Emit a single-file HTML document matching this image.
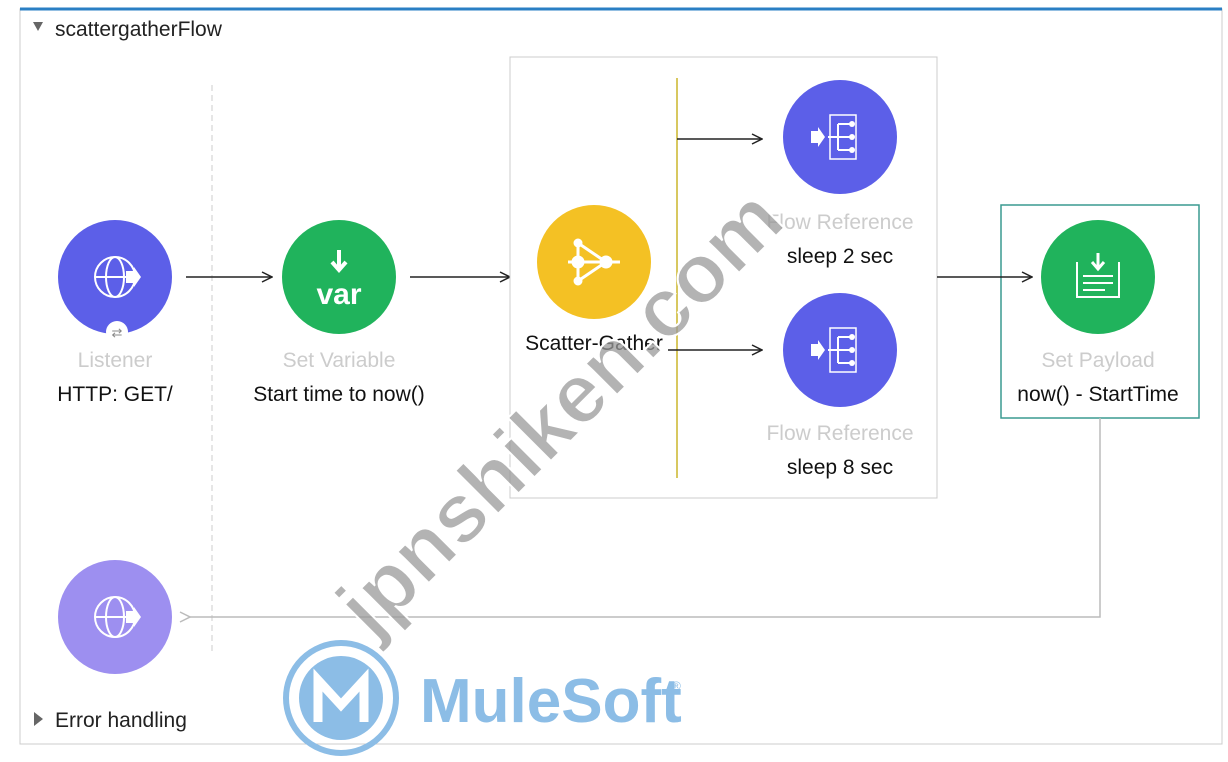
<!DOCTYPE html>
<html><head><style>
body{margin:0;width:1228px;height:757px;background:#fff;overflow:hidden;font-family:"Liberation Sans",sans-serif;}
</style></head><body>
<svg width="1228" height="757" viewBox="0 0 1228 757" xmlns="http://www.w3.org/2000/svg" font-family="Liberation Sans, sans-serif">
<defs>
<marker id="ar" markerWidth="12" markerHeight="12" refX="11" refY="6" orient="auto" markerUnits="userSpaceOnUse"><path d="M1,1 L11,6 L1,11" fill="none" stroke="#222" stroke-width="1.5"/></marker>
<marker id="ag" markerWidth="12" markerHeight="12" refX="1" refY="6" orient="auto" markerUnits="userSpaceOnUse"><path d="M11,1 L1,6 L11,11" fill="none" stroke="#bbb" stroke-width="1.5"/></marker>
</defs>
<rect x="20" y="9" width="1202" height="735" fill="#fff" stroke="#ccc"/>
<line x1="20" y1="9" x2="1222" y2="9" stroke="#2a7fc4" stroke-width="3"/>
<path d="M33,22 L43,22 L38,31 Z" fill="#666"/>
<text x="55" y="36" font-size="21" fill="#222">scattergatherFlow</text>
<line x1="212" y1="85" x2="212" y2="655" stroke="#ccc" stroke-dasharray="6,4"/>
<!-- Listener -->
<circle cx="115" cy="277" r="57" fill="#5c5fe8"/>
<circle cx="115" cy="277" r="20" fill="none" stroke="#fff" stroke-width="2"/>
<ellipse cx="115" cy="277" rx="9" ry="20" fill="none" stroke="#fff" stroke-width="2"/>
<line x1="95" y1="277" x2="135" y2="277" stroke="#fff" stroke-width="2"/>
<path d="M126,271 L134,271 L134,267 L141,277 L134,287 L134,283 L126,283Z" fill="#fff"/>
<circle cx="117" cy="332" r="11" fill="#fff"/>
<text x="117" y="337" font-size="13" fill="#888" text-anchor="middle">⇄</text>
<text x="115" y="367" font-size="21" fill="#ccc" text-anchor="middle">Listener</text>
<text x="115" y="401" font-size="21" fill="#111" text-anchor="middle">HTTP: GET/</text>
<line x1="186" y1="277" x2="272" y2="277" stroke="#222" stroke-width="1.5" marker-end="url(#ar)"/>
<!-- Set Variable -->
<circle cx="339" cy="277" r="57" fill="#20b35c"/>
<path d="M339,250 L339,268 M332,262 L339,270 L346,262" stroke="#fff" stroke-width="4" fill="none"/>
<text x="339" y="304" font-size="30" font-weight="bold" fill="#fff" text-anchor="middle">var</text>
<text x="339" y="367" font-size="21" fill="#ccc" text-anchor="middle">Set Variable</text>
<text x="339" y="401" font-size="21" fill="#111" text-anchor="middle">Start time to now()</text>
<line x1="410" y1="277" x2="510" y2="277" stroke="#222" stroke-width="1.5" marker-end="url(#ar)"/>
<!-- Scatter box -->
<rect x="510" y="57" width="427" height="441" fill="#fff" stroke="#ccc"/>
<line x1="677" y1="78" x2="677" y2="478" stroke="#d8c860" stroke-width="2"/>
<circle cx="594" cy="262" r="57" fill="#f4c124"/>
<g stroke="#fff" stroke-width="3" fill="#fff">
<line x1="578" y1="243" x2="578" y2="281"/><line x1="578" y1="243" x2="606" y2="262"/><line x1="578" y1="281" x2="606" y2="262"/><line x1="568" y1="262" x2="620" y2="262"/>
<circle cx="578" cy="243" r="3"/><circle cx="578" cy="281" r="3"/><circle cx="578" cy="262" r="5"/><circle cx="606" cy="262" r="5"/>
</g>
<text x="594" y="350" font-size="21" fill="#111" text-anchor="middle">Scatter-Gather</text>
<line x1="677" y1="139" x2="762" y2="139" stroke="#222" stroke-width="1.5" marker-end="url(#ar)"/>
<line x1="668" y1="350" x2="762" y2="350" stroke="#222" stroke-width="1.5" marker-end="url(#ar)"/>
<g id="fr">
<circle cx="840" cy="137" r="57" fill="#5c5fe8"/>
<rect x="830" y="115" width="26" height="44" fill="none" stroke="#fff" stroke-width="1.5"/>
<path d="M811,131 L818,131 L818,127 L825,137 L818,147 L818,143 L811,143Z" fill="#fff"/>
<path d="M828,137 L838,137 M838,124 L838,150 M838,124 L852,124 M838,137 L852,137 M838,150 L852,150" stroke="#fff" stroke-width="2" fill="none"/>
<circle cx="852" cy="124" r="3" fill="#fff"/><circle cx="852" cy="137" r="3" fill="#fff"/><circle cx="852" cy="150" r="3" fill="#fff"/>
</g>
<use href="#fr" y="213"/>
<text x="840" y="229" font-size="21" fill="#ccc" text-anchor="middle">Flow Reference</text>
<text x="840" y="263" font-size="21" fill="#111" text-anchor="middle">sleep 2 sec</text>
<text x="840" y="440" font-size="21" fill="#ccc" text-anchor="middle">Flow Reference</text>
<text x="840" y="474" font-size="21" fill="#111" text-anchor="middle">sleep 8 sec</text>
<!-- Set Payload -->
<rect x="1001" y="205" width="198" height="213" fill="none" stroke="#3a9a90" stroke-width="1.5"/>
<line x1="937" y1="277" x2="1032" y2="277" stroke="#222" stroke-width="1.5" marker-end="url(#ar)"/>
<circle cx="1098" cy="277" r="57" fill="#20b35c"/>
<path d="M1077,262 L1077,297 L1119,297 L1119,262" stroke="#fff" stroke-width="2" fill="none"/>
<path d="M1098,253 L1098,267 M1092,262 L1098,269 L1104,262" stroke="#fff" stroke-width="3" fill="none"/>
<path d="M1083,276 L1113,276 M1083,283 L1113,283 M1083,290 L1105,290" stroke="#fff" stroke-width="2"/>
<text x="1098" y="367" font-size="21" fill="#ccc" text-anchor="middle">Set Payload</text>
<text x="1098" y="401" font-size="21" fill="#111" text-anchor="middle">now() - StartTime</text>
<path d="M1100,418 L1100,617 L190,617" stroke="#bbb" stroke-width="1.5" fill="none" marker-end="url(#ag)"/>
<!-- bottom circle -->
<circle cx="115" cy="617" r="57" fill="#9d8ff0"/>
<circle cx="115" cy="617" r="20" fill="none" stroke="#fff" stroke-width="2"/>
<ellipse cx="115" cy="617" rx="9" ry="20" fill="none" stroke="#fff" stroke-width="2"/>
<line x1="95" y1="617" x2="135" y2="617" stroke="#fff" stroke-width="2"/>
<path d="M126,611 L134,611 L134,607 L141,617 L134,627 L134,623 L126,623Z" fill="#fff"/>
<path d="M34,712 L43,719 L34,726Z" fill="#666"/>
<text x="55" y="727" font-size="21" fill="#222">Error handling</text>
<!-- watermark -->
<text x="0" y="0" font-size="84" font-weight="bold" fill="#9a9a9a" fill-opacity="0.75" stroke="#fff" stroke-width="2" transform="translate(372,640) rotate(-45)">jpnshiken.com</text>
<circle cx="341" cy="698" r="55" fill="none" stroke="#8cbde6" stroke-width="6"/>
<circle cx="341" cy="698" r="42" fill="#8cbde6"/>
<path d="M318,722 L318,680 L341,705 L364,680 L364,722" stroke="#fff" stroke-width="9" fill="none"/>
<text x="420" y="722" font-size="62" font-weight="bold" fill="#8cbde6">MuleSoft</text>
<text x="672" y="690" font-size="12" fill="#8cbde6">®</text>
</svg>
</body></html>
